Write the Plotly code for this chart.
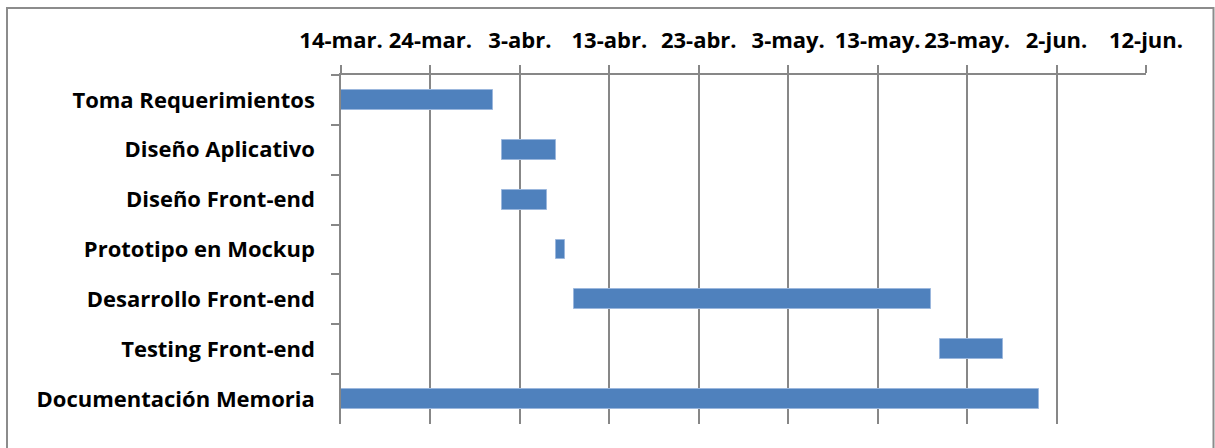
import plotly.graph_objects as go
import pandas as pd

tasks = ["Toma Requerimientos", "Diseño Aplicativo", "Diseño Front-end",
         "Prototipo en Mockup", "Desarrollo Front-end", "Testing Front-end",
         "Documentación Memoria"]
starts = ["2015-03-14", "2015-04-01", "2015-04-01", "2015-04-07",
          "2015-04-09", "2015-05-20", "2015-03-14"]
ends = ["2015-03-31", "2015-04-07", "2015-04-06", "2015-04-08",
        "2015-05-19", "2015-05-27", "2015-05-31"]
tick_dates = ["2015-03-14", "2015-03-24", "2015-04-03", "2015-04-13", "2015-04-23",
              "2015-05-03", "2015-05-13", "2015-05-23", "2015-06-02", "2015-06-12"]
tick_labels = ["14-mar.", "24-mar.", "3-abr.", "13-abr.", "23-abr.",
               "3-may.", "13-may.", "23-may.", "2-jun.", "12-jun."]

s = pd.to_datetime(starts)
e = pd.to_datetime(ends)
dur_ms = [(b - a).total_seconds() * 1000 for a, b in zip(s, e)]

FONT = "'Open Sans', Lato, sans-serif"
GRID = "#878787"

fig = go.Figure(go.Bar(
    y=tasks, x=dur_ms, base=starts, orientation="h", width=0.4,
    marker=dict(color="#4F81BD", line=dict(color="#9bb7dd", width=1)),
    hoverinfo="skip",
))

L, R, T, B = 341, 69, 75, 24
W, H = 1215, 448
pw, ph = W - L - R, H - T - B

fig.update_layout(
    width=W, height=H,
    margin=dict(l=L, r=R, t=T, b=B, pad=0),
    paper_bgcolor="white", plot_bgcolor="white",
    font=dict(family=FONT, size=22, color="black"),
    showlegend=False,
    bargap=0,
    xaxis=dict(
        type="date", side="top",
        range=[tick_dates[0], tick_dates[-1]],
        tickvals=tick_dates, ticktext=tick_labels,
        showgrid=True, gridcolor=GRID, gridwidth=1.5,
        showline=True, linecolor=GRID, linewidth=1.5,
        ticks="outside", ticklen=8, tickcolor=GRID, tickwidth=1.5,
        ticklabelstandoff=8,
        tickfont=dict(family=FONT, size=22, color="black", weight="bold"),
        zeroline=False, fixedrange=True,
    ),
    yaxis=dict(
        type="category", categoryorder="array", categoryarray=tasks,
        autorange="reversed",
        showline=True, linecolor=GRID, linewidth=1.5,
        ticks="outside", ticklen=8, tickcolor=GRID, tickwidth=1.5,
        tickson="boundaries", ticklabelstandoff=20,
        tickfont=dict(family=FONT, size=22, color="black", weight="bold"),
        showgrid=False, zeroline=False, fixedrange=True,
    ),
)

# outer chart border (frame of the chart area)
fig.add_shape(type="rect", xref="paper", yref="paper",
              x0=(7 - L) / pw, x1=(1213.5 - L) / pw,
              y0=(H - 460 - B) / ph, y1=(H - 8 - B) / ph,
              line=dict(color="#8c8c8c", width=2), fillcolor="rgba(0,0,0,0)",
              layer="below")

fig.write_html("out.html")
